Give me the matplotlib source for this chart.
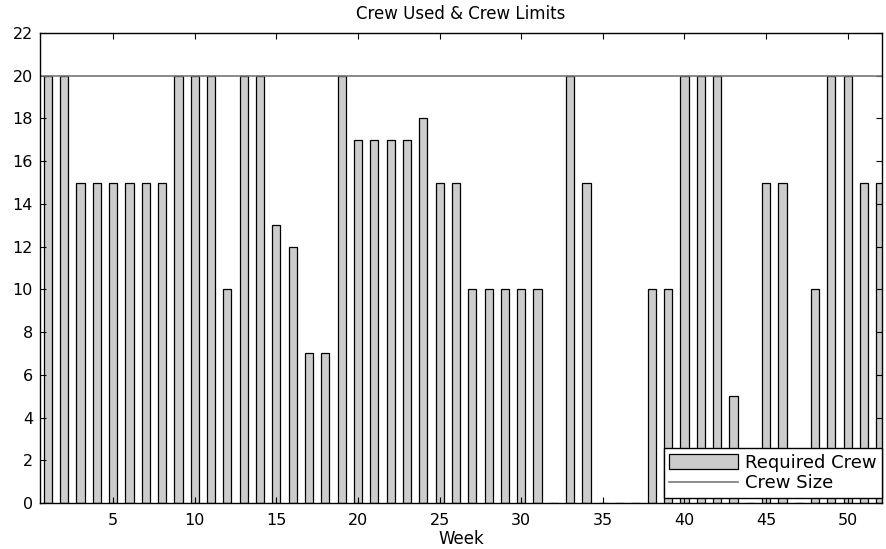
import numpy as np
import matplotlib
matplotlib.use("Agg")
import matplotlib.pyplot as plt

weeks = np.arange(1, 53)
required_crew = [20, 20, 15, 15, 15, 15, 15, 15, 20, 20,
                 20, 10, 20, 20, 13, 12, 7, 7, 20, 17,
                 17, 17, 17, 18, 15, 15, 10, 10, 10, 10,
                 10, 0, 20, 15, 0, 0, 0, 10, 10, 20,
                 20, 20, 5, 0, 15, 15, 0, 10, 20, 20,
                 15, 15]
crew_size = 20

plt.rcParams['font.family'] = ['DejaVu Sans']
plt.rcParams['font.size'] = 11.5

fig = plt.figure(figsize=(8.86, 5.49), dpi=100)
ax = fig.add_axes([40/886, 46/549, 842/886, 470/549])

bars = ax.bar(weeks, required_crew, width=0.5, color='#cccccc', edgecolor='black',
              linewidth=0.9, label='Required Crew')
line, = ax.plot([0, 60], [crew_size, crew_size], color='#777777', linewidth=1.2,
                label='Crew Size')

ax.set_xlim(0.52, 52.1)
ax.set_ylim(0, 22)
ax.set_xticks([5, 10, 15, 20, 25, 30, 35, 40, 45, 50])
ax.set_yticks(range(0, 23, 2))
ax.tick_params(direction='in', top=True, right=True, length=4, width=0.8, pad=7)
ax.tick_params(axis='y', pad=5)
for s in ax.spines.values():
    s.set_linewidth(1.0)

ax.set_title('Crew Used & Crew Limits', fontsize=12, pad=10)
ax.set_xlabel('Week', fontsize=12, labelpad=2)

leg = ax.legend([bars, line], ['Required Crew', 'Crew Size'], loc='lower right',
                bbox_to_anchor=(1.0, 0.011), fancybox=False, framealpha=1,
                edgecolor='black', borderaxespad=0, handlelength=3.8,
                handleheight=0.9, borderpad=0.3, labelspacing=0.15,
                handletextpad=0.4, fontsize=13)
leg.get_frame().set_linewidth(1.0)

fig.savefig('out.png', dpi=100)
